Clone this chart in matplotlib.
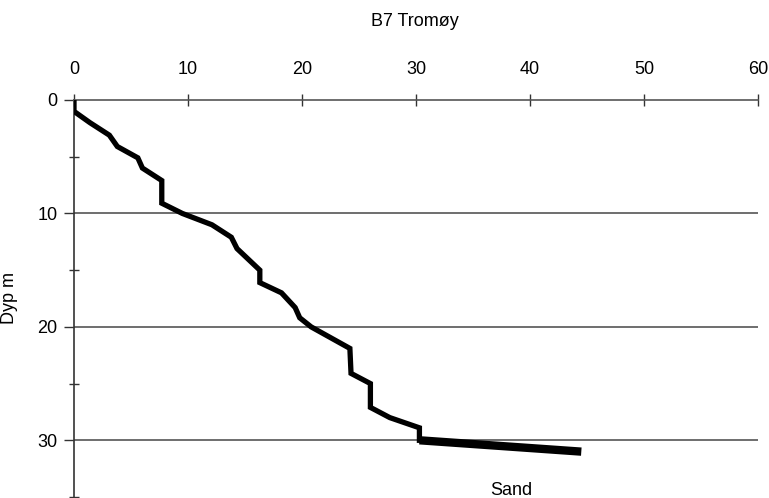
import matplotlib
matplotlib.use("Agg")
import matplotlib.pyplot as plt
from matplotlib.ticker import MultipleLocator

plt.rcParams['font.family'] = ['Liberation Sans', 'DejaVu Sans']

title = "B7 Tromøy"
ylabel = "Dyp m"
layer_label = "Sand"

# Sounding profile: x value vs depth (m)
profile_x = [0, 0, 1.4, 3.1, 3.8, 5.6, 6.0, 7.7, 7.7, 9.5, 12.1, 13.8, 14.3, 16.3, 16.3,
             18.2, 19.4, 19.8, 20.8, 24.2, 24.3, 26.0, 26.0, 27.7, 30.3, 30.3]
profile_depth = [0, 1, 2, 3.1, 4.1, 5.1, 6, 7.1, 9.1, 10, 11, 12.1, 13.1, 15, 16.1,
                 17, 18.3, 19.2, 20, 21.9, 24.1, 25, 27.1, 28, 28.9, 30]
sand_x = [30.3, 44.5]
sand_depth = [30.0, 31.0]

xticks = [0, 10, 20, 30, 40, 50, 60]
yticks = [0, 10, 20, 30]

W, H = 769, 498
fig = plt.figure(figsize=(W / 100, H / 100), dpi=100)
left, right, top, bottom = 74, 758, 100, 497
ax = fig.add_axes([left / W, 1 - bottom / H, (right - left) / W, (bottom - top) / H])

ax.set_xlim(0, 60)
ax.set_ylim(35, 0)

grid_col = "#555555"
for y in yticks[1:]:
    ax.axhline(y, color=grid_col, lw=1.2, zorder=1)

ax.plot(profile_x, profile_depth, color="black", lw=3.8, solid_joinstyle="miter", zorder=3)
ax.plot(sand_x, sand_depth, color="black", lw=6.0, solid_capstyle="butt", zorder=3)

ax.xaxis.tick_top()
ax.set_xticks(xticks)
ax.set_yticks(yticks)
ax.yaxis.set_minor_locator(MultipleLocator(5))
for s in ["right", "bottom"]:
    ax.spines[s].set_visible(False)
ax.spines["top"].set_color(grid_col)
ax.spines["top"].set_linewidth(1.2)
ax.spines["left"].set_color("#333333")
ax.spines["left"].set_linewidth(1.2)

ax.tick_params(axis="x", which="major", direction="inout", length=8, width=1.0,
               color="#333333", pad=12, labelsize=13)
ax.tick_params(axis="y", which="major", direction="out", length=7, width=1.0,
               color="#333333", pad=5, labelsize=13)
ax.tick_params(axis="y", which="minor", direction="inout", length=7, width=1.0,
               color="#333333")

ax.set_ylabel(ylabel, fontsize=13)
ax.yaxis.set_label_coords((18 - left) / (right - left), (bottom - 298) / (bottom - top))

fig.text(415 / W, 1 - 22 / H, title, ha="center", va="center", fontsize=13)
ax.text(38.4, 34.4, layer_label, ha="center", va="center", fontsize=13)

fig.savefig("out.png", dpi=100)
